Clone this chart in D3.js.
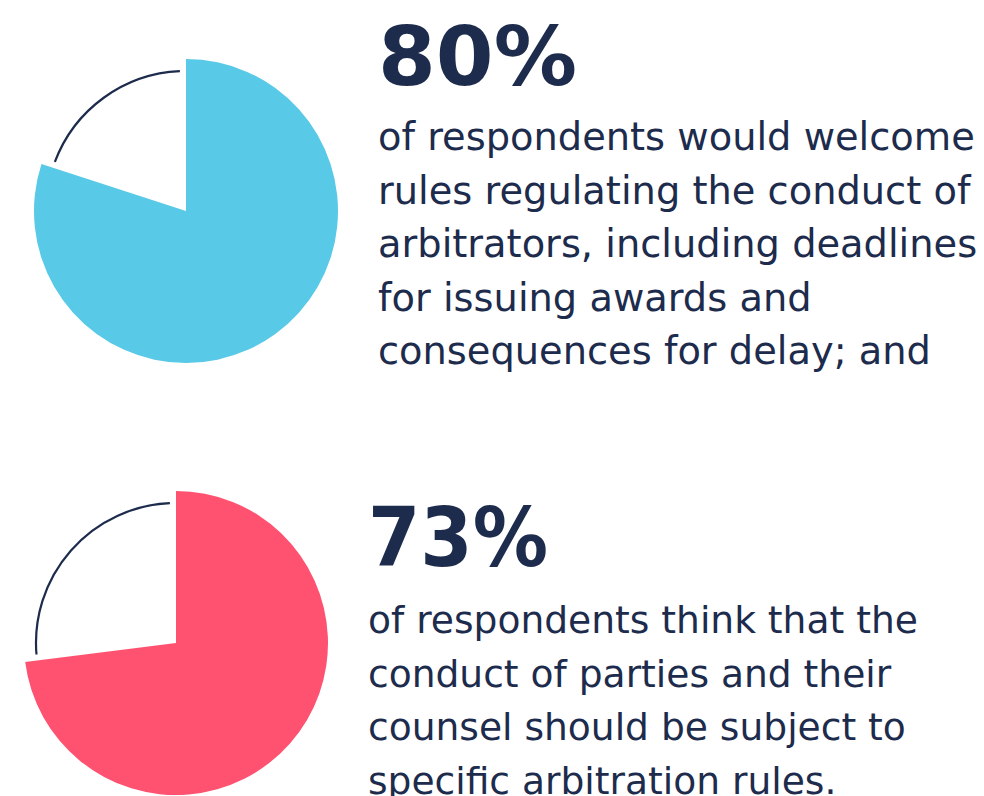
<!DOCTYPE html>
<html>
<head>
  <meta charset="UTF-8">
  <style>
    body { margin: 0; background: #fff; }
    svg { display: block; }
    .big { font-family: 'DejaVu Sans', sans-serif; font-weight: bold; fill: #1d2b4c; }
    .desc { font-family: 'DejaVu Sans', sans-serif; fill: #1d2b4c; }
  </style>
</head>
<body>
<script src="https://cdn.jsdelivr.net/npm/d3@7/dist/d3.min.js"></script>
<script>
  // values
  const percents = [80, 73];
  const sliceColors = ["#58c9e7", "#ff5170"];
  const descriptions = [
    ["of respondents would welcome",
     "rules regulating the conduct of",
     "arbitrators, including deadlines",
     "for issuing awards and",
     "consequences for delay; and"],
    ["of respondents think that the",
     "conduct of parties and their",
     "counsel should be subject to",
     "specific arbitration rules."]
  ];

  let width = 984, height = 796;

  // block layout
  const pieCenters = [[186, 211], [176, 643]];
  const textX = [378, 368];
  const bigBaseline = [85, 566];
  const bigWidth = [199, 180];
  const firstLine = [150, 633];
  const lineWidth = [597, 550]; // width of first description line
  const lineGap = 53.5;

  let svg = d3.select("body").append("svg")
    .attr("width", width)
    .attr("height", height);

  let pie = d3.pie().sort(null).value(d => d);
  let r = 152, rLine = 140;
  let arc = d3.arc().innerRadius(0).outerRadius(r);
  let pad = 2.5 * Math.PI / 180;

  percents.forEach((p, i) => {
    let slices = pie([p, 100 - p]);
    let g = svg.append("g")
      .attr("transform", "translate(" + pieCenters[i][0] + "," + pieCenters[i][1] + ")");

    g.append("path")
      .attr("d", arc(slices[0]))
      .attr("fill", sliceColors[i]);

    // thin outline over the empty part
    let rest = slices[1];
    let outline = d3.arc()
      .innerRadius(rLine).outerRadius(rLine)
      .startAngle(rest.startAngle + pad)
      .endAngle(rest.endAngle - pad);
    g.append("path")
      .attr("d", outline())
      .attr("fill", "none")
      .attr("stroke", "#1d2b4c")
      .attr("stroke-width", 2.2);

    // big number
    svg.append("text")
      .attr("class", "big")
      .attr("x", textX[i])
      .attr("y", bigBaseline[i])
      .attr("font-size", 82)
      .attr("textLength", bigWidth[i])
      .attr("lengthAdjust", "spacingAndGlyphs")
      .text(p + "%");

    // description, font size fitted to the first line
    let t = svg.append("g").attr("class", "desc").attr("font-size", 36);
    let lines = t.selectAll("text")
      .data(descriptions[i])
      .enter()
      .append("text")
      .attr("x", textX[i])
      .attr("y", (d, j) => firstLine[i] + j * lineGap)
      .text(d => d);
    let w = lines.node().getComputedTextLength();
    t.attr("font-size", 36 * lineWidth[i] / w);
  });
</script>
</body>
</html>
